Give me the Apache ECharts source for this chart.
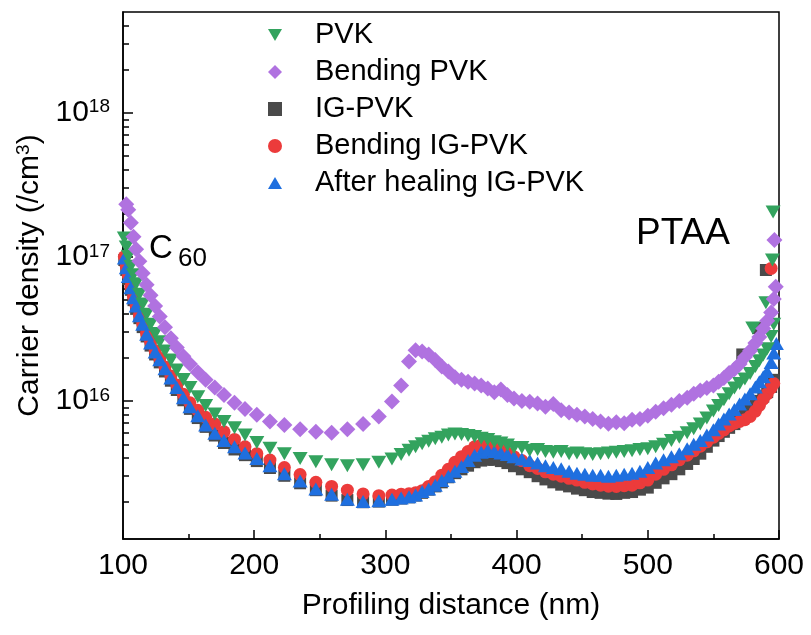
<!DOCTYPE html>
<html>
<head>
<meta charset="utf-8">
<script src="https://cdn.jsdelivr.net/npm/echarts@6/dist/echarts.min.js"></script>
<style>
  html, body { margin: 0; padding: 0; background: #fff; }
  #chart { width: 811px; height: 635px; }
</style>
</head>
<body>
<div id="chart"></div>
<script>
// profiling distance (nm), shared by the five series
const distance = [
  101, 102.5, 104, 106, 108, 110, 112.5, 115, 118, 121,
  124.5, 128, 132, 136.5, 141, 146, 151, 157, 163, 170,
  177, 185, 193, 202, 212, 223, 235, 247, 259, 271,
  283, 295, 305, 312, 318, 323, 328, 333,
  338, 343, 348, 353, 358, 363, 368, 373, 378, 383,
  388, 393, 398, 404, 410, 416, 422, 428, 434, 440,
  446, 452, 458, 464, 470, 476, 482, 488, 494, 500,
  506, 512, 518, 524, 530, 535, 540, 545, 550, 554,
  558, 562, 566, 570, 574, 578, 582, 585, 588, 591,
  594, 596
];

// carrier density in units of 1e15 /cm3
const pvk = [
  135, 117, 101, 86, 75, 65, 55, 47, 40, 34,
  29.3, 25.7, 22.2, 19.2, 16.4, 14.1, 12.4, 10.7, 9.3, 8.1,
  7.2, 6.5, 5.8, 5.15, 4.7, 4.3, 3.98, 3.78, 3.6, 3.55,
  3.6, 3.75, 3.95, 4.25, 4.55, 4.8, 5.05, 5.25,
  5.45, 5.6, 5.8, 5.9, 5.85, 5.75, 5.65, 5.5, 5.4, 5.2,
  5.1, 4.95, 4.75, 4.75, 4.55, 4.6, 4.45, 4.4, 4.45, 4.3,
  4.35, 4.3, 4.25, 4.3, 4.35, 4.4, 4.45, 4.5, 4.6, 4.65,
  4.8, 5.0, 5.3, 5.6, 6.0, 6.4, 6.9, 7.6, 8.5, 9.3,
  10.2, 11.2, 12.3, 13.2, 14.2, 15.5, 17.3, 19.0, 20.8, 23,
  28, 34
];
const bendingPvk = [
  null, 232, 212, 172, 138, 113, 93, 77, 64, 54,
  45.5, 38.5, 32.5, 27.2, 23.5, 20.4, 18.0, 15.8, 14.0, 12.4,
  11.0, 9.7, 8.8, 8.0, 7.2, 6.8, 6.35, 6.1, 6.0, 6.35,
  6.9, 7.8, 9.9, 12.8, 18.8, 22.5, 22.0, 21.0,
  19.2, 17.3, 16.0, 14.6, 14.0, 13.6, 13.2, 12.8, 12.2, 11.5,
  12.0, 11.0, 10.4, 10.0, 9.85, 9.6, 9.1, 9.5, 8.6, 8.3,
  8.0, 7.8, 7.5, 7.2, 6.95, 7.1, 7.0, 7.4, 7.5, 7.9,
  8.4, 8.9, 9.4, 10.0, 10.5, 11.2, 11.8, 12.3, 12.8, 13.6,
  14.4, 15.6, 16.6, 18.0, 20.2, 22.3, 25.2, 27.8, 31.8, 36,
  41, 51
];
const igPvk = [
  95, 81, 70, 59, 50, 43.5, 37.5, 32.5, 28, 24.2,
  21, 18.5, 16, 13.8, 11.9, 10.1, 8.8, 7.6, 6.6, 5.75,
  5.1, 4.6, 4.2, 3.82, 3.42, 3.02, 2.68, 2.4, 2.2, 2.05,
  1.98, 2.0, 2.06, 2.1, 2.14, 2.2, 2.3, 2.42,
  2.55, 2.72, 2.95, 3.15, 3.35, 3.55, 3.75, 3.85, 3.9, 3.9,
  3.82, 3.7, 3.52, 3.35, 3.2, 3.0, 2.85, 2.72, 2.62, 2.55,
  2.46, 2.4, 2.33, 2.3, 2.27, 2.26, 2.3, 2.33, 2.42, 2.5,
  2.7, 2.9, 3.1, 3.35, 3.65, 3.95, 4.3, 4.8, 5.3, 5.7,
  6.1, 6.5, 6.9, 7.4, 8.0, 8.7, 9.3, 10.0, 10.7, 11.5,
  12.5, 14
];
const bendingIgPvk = [
  100, 86, 74, 62, 53, 46, 39.5, 34.5, 29.5, 25.8,
  22.3, 19.8, 17.2, 14.9, 12.9, 11.1, 9.7, 8.6, 7.7, 6.9,
  6.1, 5.4, 4.8, 4.3, 3.88, 3.45, 3.08, 2.72, 2.55, 2.4,
  2.26, 2.2, 2.22, 2.25, 2.27, 2.3, 2.38, 2.55,
  2.75, 3.05, 3.35, 3.75, 4.1, 4.45, 4.8, 4.95, 5.0, 4.85,
  4.6, 4.35, 4.1, 3.85, 3.55, 3.4, 3.22, 3.1, 3.0, 2.9,
  2.82, 2.72, 2.65, 2.6, 2.56, 2.55, 2.58, 2.6, 2.7, 2.82,
  3.1, 3.35, 3.6, 3.9, 4.2, 4.5, 4.85, 5.2, 5.6, 5.95,
  6.3, 6.7, 7.0, 7.2, 7.4, 7.8, 8.5, 9.3, 10.3, 11.2,
  12.3, 13.2
];
const healedIgPvk = [
  98, 84, 73, 61, 52, 45.5, 39, 34, 29, 25.2,
  21.8, 19.3, 16.7, 14.4, 12.4, 10.5, 9.1, 7.9, 6.8, 5.95,
  5.3, 4.8, 4.35, 3.98, 3.55, 3.12, 2.78, 2.45, 2.25, 2.08,
  2.0, 2.03, 2.08, 2.12, 2.16, 2.22, 2.35, 2.45,
  2.6, 2.8, 3.0, 3.25, 3.5, 3.85, 4.2, 4.4, 4.55, 4.45,
  4.35, 4.25, 4.1, 3.95, 3.85, 3.7, 3.55, 3.45, 3.38, 3.25,
  3.15, 3.1, 3.05, 3.05, 3.0, 3.05, 3.1, 3.15, 3.25, 3.45,
  3.7, 3.9, 4.1, 4.3, 4.65, 5.0, 5.3, 5.8, 6.3, 6.9,
  7.5, 8.1, 8.7, 9.5, 10.3, 11.2, 12.5, 13.6, 14.7, 16,
  18.5, 21.5
];

// scattered points near the PTAA side: [distance, density e15]
const pvkEdge = [[580, 32], [590, 48], [595, 95], [595.5, 205]];
const bendingPvkEdge = [[597.5, 62], [596.5, 131]];
const igPvkEdge = [[572, 21], [584, 32], [590, 81]];
const bendingIgPvkEdge = [[594, 83]];
const healedIgPvkEdge = [[598, 25]];

const yMin = 1.1e15;
const yMax = 5e18;
// minor ticks 2..9 x 10^n, on a helper axis in log10 units
const minorExp = [];
[15, 16, 17, 18].forEach((n) => {
  for (let k = 2; k <= 9; k++) {
    const v = k * Math.pow(10, n);
    if (v > yMin && v < yMax) minorExp.push(Math.log10(v));
  }
});

const FONT = "'Liberation Sans', Arial, sans-serif";

function points(values, edge) {
  const pts = [];
  distance.forEach((d, i) => {
    if (values[i] != null) pts.push([d, values[i] * 1e15]);
  });
  edge.forEach((e) => pts.push([e[0], e[1] * 1e15]));
  return pts;
}

const downTri = "path://M0,0L14,0L7,12Z";
const upTri = "path://M7,0L14,12L0,12Z";

const series = [
  { name: "IG-PVK", data: points(igPvk, igPvkEdge), symbol: "rect", symbolSize: 12, color: "#4a4a4a" },
  { name: "Bending IG-PVK", data: points(bendingIgPvk, bendingIgPvkEdge), symbol: "circle", symbolSize: 13, color: "#ec3b3b" },
  { name: "After healing IG-PVK", data: points(healedIgPvk, healedIgPvkEdge), symbol: upTri, symbolSize: [15, 13], color: "#1f6fdf" },
  { name: "PVK", data: points(pvk, pvkEdge), symbol: downTri, symbolSize: [15, 13], color: "#33a35e" },
  { name: "Bending PVK", data: points(bendingPvk, bendingPvkEdge), symbol: "diamond", symbolSize: 16, color: "#b072e0" },
].map((s) => ({
  name: s.name,
  type: "scatter",
  data: s.data,
  symbol: s.symbol,
  symbolSize: s.symbolSize,
  itemStyle: { color: s.color, opacity: 1 },
  emphasis: { disabled: true },
}));

const chart = echarts.init(document.getElementById("chart"), null, { renderer: "canvas" });

chart.setOption({
  animation: false,
  backgroundColor: "#fff",
  textStyle: { fontFamily: FONT, color: "#000" },
  grid: {
    left: 123, right: 32, top: 12, bottom: 96,
    show: true, borderColor: "#000", borderWidth: 1.5,
  },
  legend: {
    orient: "vertical",
    left: 263,
    top: 15,
    itemWidth: 14,
    itemHeight: 14,
    itemGap: 7,
    textStyle: { fontFamily: FONT, fontSize: 29, lineHeight: 30, color: "#000", padding: [0, 0, 0, 28] },
    data: [
      { name: "PVK", icon: downTri },
      { name: "Bending PVK", icon: "diamond" },
      { name: "IG-PVK", icon: "rect" },
      { name: "Bending IG-PVK", icon: "circle" },
      { name: "After healing IG-PVK", icon: upTri },
    ],
  },
  xAxis: {
    type: "value",
    min: 100,
    max: 600,
    interval: 100,
    name: "Profiling distance (nm)",
    nameLocation: "middle",
    nameGap: 52,
    nameTextStyle: { fontFamily: FONT, fontSize: 30, color: "#000" },
    axisLine: { lineStyle: { color: "#000", width: 1.5 } },
    axisTick: { inside: true, length: 9, lineStyle: { color: "#000", width: 1.5 } },
    minorTick: { show: true, splitNumber: 2, length: 5, lineStyle: { color: "#000", width: 1.5 } },
    splitLine: { show: false },
    axisLabel: { fontFamily: FONT, fontSize: 30, color: "#000", margin: 12 },
  },
  yAxis: [
    {
      type: "log",
      min: yMin,
      max: yMax,
      name: "Carrier density (/cm{sup|3})",
      nameLocation: "middle",
      nameGap: 76,
      nameTextStyle: {
        fontFamily: FONT, fontSize: 30, color: "#000",
        rich: { sup: { fontFamily: FONT, fontSize: 19, color: "#000", verticalAlign: "top" } },
      },
      axisLine: { lineStyle: { color: "#000", width: 1.5 } },
      axisTick: { inside: true, length: 10, lineStyle: { color: "#000", width: 1.5 } },
      splitLine: { show: false },
      axisLabel: {
        margin: 13,
        showMinLabel: false,
        showMaxLabel: false,
        formatter: (v) => {
          const e = Math.log10(v);
          if (Math.abs(e - Math.round(e)) > 1e-6) return "";
          return "{b|10}{s|" + Math.round(e) + "}";
        },
        rich: {
          b: { fontFamily: FONT, fontSize: 30, color: "#000" },
          s: { fontFamily: FONT, fontSize: 19, color: "#000", verticalAlign: "top", padding: [0, 0, 8, 0] },
        },
      },
    },
    {
      type: "value",
      min: Math.log10(yMin),
      max: Math.log10(yMax),
      position: "left",
      axisLine: { show: false },
      axisTick: { inside: true, length: 6, customValues: minorExp, lineStyle: { color: "#000", width: 1.5 } },
      axisLabel: { show: false },
      splitLine: { show: false },
    },
  ],
  graphic: [
    { type: "text", left: 149, top: 232, style: { text: "C", font: "33px " + FONT, fill: "#000" } },
    { type: "text", left: 178, top: 246, style: { text: "60", font: "26px " + FONT, fill: "#000" } },
    { type: "text", left: 636, top: 215, style: { text: "PTAA", font: "37px " + FONT, fill: "#000" } },
  ],
  series: series,
});
</script>
</body>
</html>
